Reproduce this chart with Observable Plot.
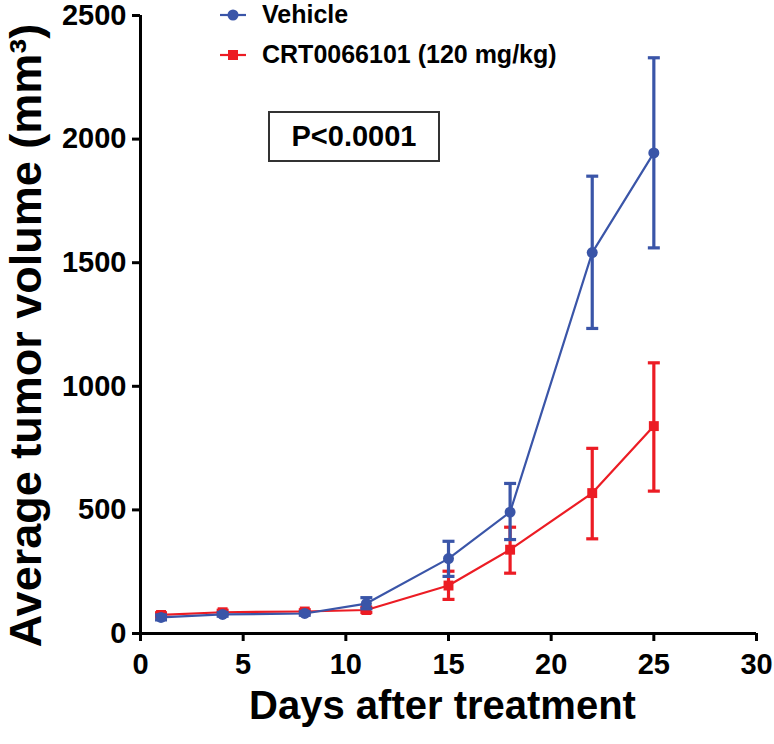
<!DOCTYPE html>
<html>
<head>
<meta charset="utf-8">
<script src="https://cdn.jsdelivr.net/npm/d3@7"></script>
<script src="https://cdn.jsdelivr.net/npm/@observablehq/plot@0.6"></script>
<style>
  body { margin: 0; background: #fff; }
  #wrap { position: relative; width: 774px; height: 744px; font-family: "Liberation Sans", Arial, sans-serif; font-weight: bold; }
  .leg { position: absolute; left: 218px; display: flex; align-items: center; font-size: 25px; color: #000; white-space: nowrap; }
  .leg svg { margin-right: 14px; }
  #pbox { position: absolute; left: 268px; top: 111px; width: 168px; height: 47px; border: 2px solid #333; display: flex; align-items: center; justify-content: center; font-size: 29px; color: #000; }
</style>
</head>
<body>
<div id="wrap"></div>
<script>
const days = [1, 4, 8, 11, 15, 18, 22, 25];
const vehicleMean = [65, 77, 81, 121, 303, 491, 1541, 1944];
const vehicleLo   = [55, 70, 74, 100, 231, 380, 1234, 1560];
const vehicleHi   = [75, 85, 88, 145, 373, 607, 1850, 2329];
const crtMean = [75, 86, 89, 95, 194, 339, 568, 839];
const crtLo   = [66, 78, 82, 85, 138, 244, 383, 576];
const crtHi   = [84, 94, 96, 106, 252, 430, 749, 1095];
const xTicks = [0, 5, 10, 15, 20, 25, 30];
const yTicks = [0, 500, 1000, 1500, 2000, 2500];
const seriesNames = ["Vehicle", "CRT0066101 (120 mg/kg)"];
const pText = "P<0.0001";

const blue = "#3a55a8";
const red = "#ec1c24";

const vehicle = days.map((d, i) => ({day: d, mean: vehicleMean[i], lo: vehicleLo[i], hi: vehicleHi[i]}));
const crt = days.map((d, i) => ({day: d, mean: crtMean[i], lo: crtLo[i], hi: crtHi[i]}));

const capSymbol = {
  draw(context, size) {
    const r = 6;
    context.moveTo(-r, 0);
    context.lineTo(r, 0);
  }
};

function seriesMarks(data, color, symbol, r) {
  return [
    Plot.ruleX(data, {x: "day", y1: "lo", y2: "hi", stroke: color, strokeWidth: 3.2}),
    Plot.dot(data, {x: "day", y: "lo", symbol: capSymbol, stroke: color, strokeWidth: 3.2, r: 6}),
    Plot.dot(data, {x: "day", y: "hi", symbol: capSymbol, stroke: color, strokeWidth: 3.2, r: 6}),
    Plot.line(data, {x: "day", y: "mean", stroke: color, strokeWidth: 2.2}),
    Plot.dot(data, {x: "day", y: "mean", symbol, fill: color, stroke: "none", r})
  ];
}

const chart = Plot.plot({
  width: 774,
  height: 744,
  marginLeft: 140,
  marginRight: 18,
  marginTop: 15,
  marginBottom: 111,
  style: {fontFamily: '"Liberation Sans", Arial, sans-serif', fontWeight: "bold", color: "#000", background: "#fff"},
  x: {domain: [0, 30]},
  y: {domain: [0, 2500]},
  marks: [
    Plot.axisX({ticks: xTicks, tickSize: 8, tickPadding: 12, fontSize: 29, strokeWidth: 3, label: null, tickFormat: d => String(d)}),
    Plot.axisY({ticks: yTicks, tickSize: 8, tickPadding: 6, fontSize: 29, strokeWidth: 3, label: null, tickFormat: d => String(d)}),
    Plot.ruleY([0], {stroke: "#000", strokeWidth: 3}),
    Plot.ruleX([0], {stroke: "#000", strokeWidth: 3}),
    ...seriesMarks(crt, red, "square", 5.6),
    ...seriesMarks(vehicle, blue, "circle", 5.5),
    Plot.text(["Days after treatment"], {frameAnchor: "bottom", textAnchor: "middle", dx: -6, dy: 85, fontSize: 40, fontWeight: "bold", fill: "#000"}),
    Plot.text(["Average tumor volume (mm³)"], {frameAnchor: "left", textAnchor: "middle", lineAnchor: "middle", rotate: -90, dx: -114, dy: 11, fontSize: 45, fontWeight: "bold", fill: "#000"})
  ]
});

const wrap = document.getElementById("wrap");
wrap.appendChild(chart);

function legendItem(name, color, shape, top) {
  const div = document.createElement("div");
  div.className = "leg";
  div.style.top = top + "px";
  const marker = shape === "circle"
    ? `<circle cx="15" cy="10" r="5.5" fill="${color}"/>`
    : `<rect x="10" y="5" width="10" height="10" fill="${color}"/>`;
  div.innerHTML = `<svg width="30" height="20"><line x1="2" x2="28" y1="10" y2="10" stroke="${color}" stroke-width="2.2"/>${marker}</svg><span>${name}</span>`;
  wrap.appendChild(div);
}
legendItem(seriesNames[0], blue, "circle", 0);
legendItem(seriesNames[1], red, "square", 40);

const p = document.createElement("div");
p.id = "pbox";
p.textContent = pText;
wrap.appendChild(p);
</script>
</body>
</html>
